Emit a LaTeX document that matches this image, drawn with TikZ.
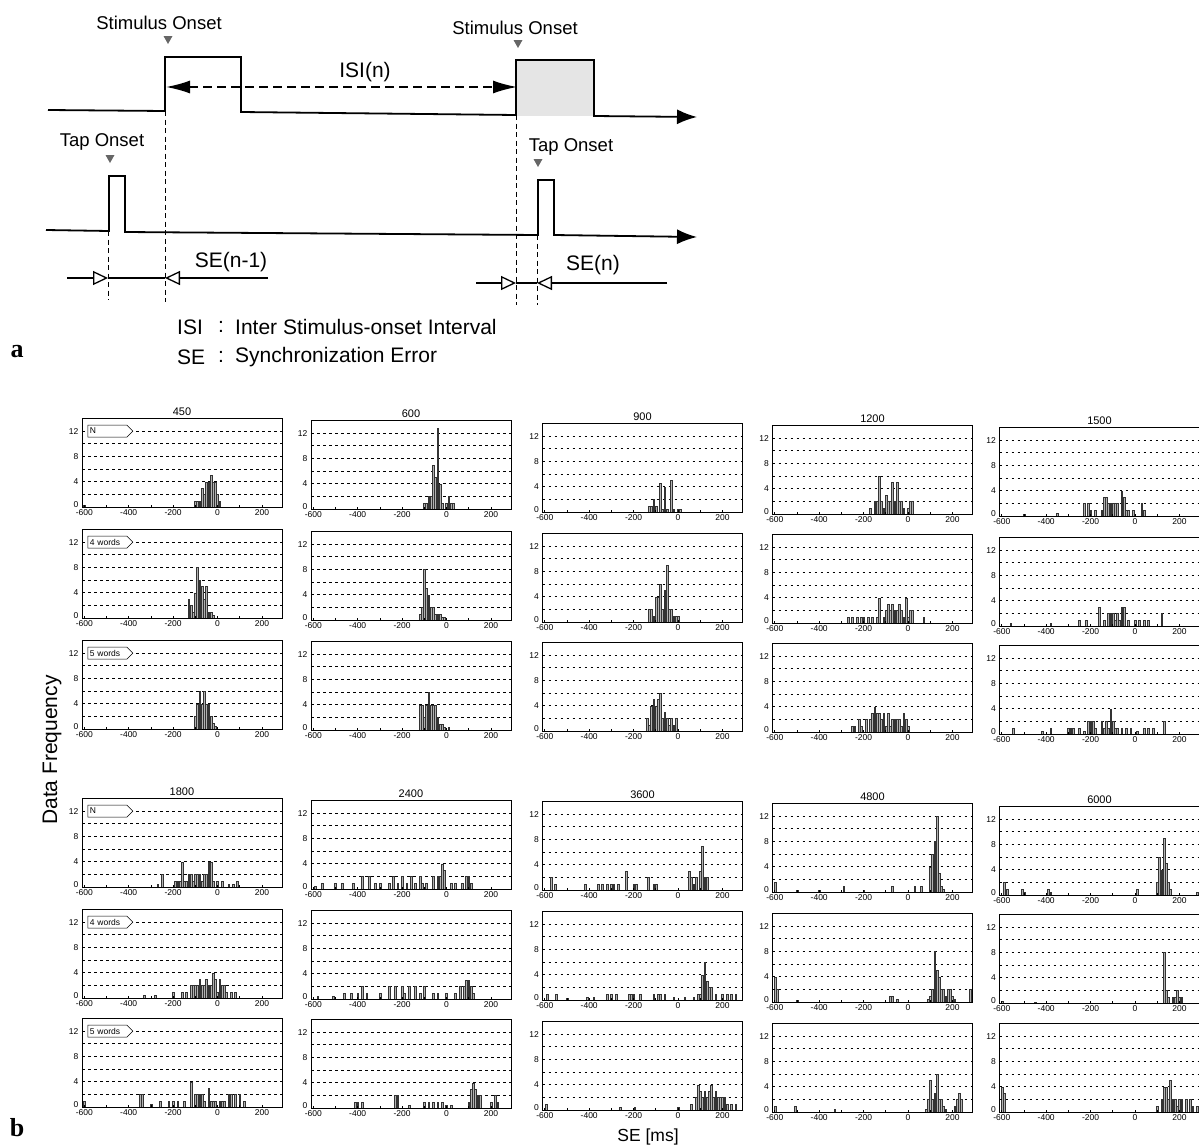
\documentclass[tikz,border=0pt]{standalone}
\usepackage{fontspec}
\setmainfont{Liberation Sans}
\newfontfamily\letterfont{Liberation Serif}
\usetikzlibrary{arrows.meta,shapes.symbols}

\newcommand\fs[1]{\fontsize{#1}{#1}\selectfont}
% small onset triangle above a pulse
\newcommand\OnsetMark[1]{%
    \fill[onset mark] (#1) ++(-4.5,-4) -- ++(9,0) -- ++(-4.5,8) -- cycle;
}
% one histogram panel
% #1 x of 0 ms, #2 y of zero count, #3 title, #4 bins (ms/count), #5 tag
\newcommand\HistPanel[5]{%
    \begin{scope}[xshift=#1pt, yshift=-#2pt, x=0.222pt, y=6.33pt]
        \foreach \gy in {2,4,...,12}
            \draw[grid line] (-610,\gy) -- (290,\gy);
        \foreach \bx/\bh in {#4}
            \draw[hist bar] (\bx-4,0) rectangle (\bx+4,\bh);
        \draw[panel frame] (-610,0) rectangle (290,14);
        \foreach \tk in {-600,-500,...,200}
            \draw[panel frame] (\tk,0) -- (\tk,0.25);
        \foreach \gy in {0,2,...,12}
            \draw[panel frame] (-610,\gy) -- (-598,\gy);
        \foreach \tk in {-600,-400,...,200}
            \node[tick label, below, inner ysep=2.5pt] at (\tk,0) {\tk};
        \foreach \gy in {4,8,12}
            \node[tick label, left] at (-610,\gy) {\gy};
        \node[tick label, left] at (-610,0.35) {0};
        \node[panel title, above] at (-160,14) {#3};
        \if\relax\detokenize{#5}\relax\else
            \node[word tag, anchor=west] at (-585,12) {#5};
        \fi
    \end{scope}
}

\begin{document}
\begin{tikzpicture}[x=1pt, y=-1pt,
        signal line/.style={line width=1.8pt},
        guide/.style={dash pattern=on 5pt off 3.5pt, line width=0.8pt},
        se line/.style={line width=1.5pt},
        onset mark/.style={fill=black!60},
        diagram label/.style={font=\fs{18.5}, inner sep=0pt},
        big label/.style={font=\fs{21}, inner sep=0pt},
        legend text/.style={font=\fs{21}, inner sep=0pt, anchor=west},
        panel letter/.style={font=\letterfont\bfseries\fs{26}, inner sep=0pt},
        axis title/.style={font=\fs{21}, inner sep=0pt},
        %% histogram styles
        grid line/.style={dash pattern=on 2.5pt off 3.5pt, line width=0.6pt},
        hist bar/.style={draw=black!80, fill=black!30, line width=0.3pt},
        panel frame/.style={line width=0.7pt},
        tick label/.style={font=\fs{8.5}, inner xsep=3.5pt, inner ysep=1pt},
        panel title/.style={font=\fs{11}, inner sep=2.5pt},
        word tag/.style={signal, signal to=east, draw, fill=white,
            line width=0.5pt, font=\fs{8.5}, text width=35pt,
            minimum height=12pt, inner xsep=2pt, inner ysep=1pt}
    ]
    \useasboundingbox (0,0) rectangle (1199,1146);
    %
    %% (a) timing diagram
    \coordinate (stimA) at (165,111);
    \coordinate (stimB) at (516,115);
    \coordinate (tapA)  at (108,231);
    \coordinate (tapB)  at (537,235);
    %
    \fill[black!10] (516,60) rectangle (594,116);
    \draw[signal line, -{Latex[length=20pt,width=15pt]}]
        (48,110) -- (stimA) -- (165,57) -- (241,57) -- (241,112)
        -- (stimB) -- (516,60) -- (594,60) -- (594,116) -- (697,117);
    \draw[signal line, -{Latex[length=20pt,width=15pt]}]
        (46,230) -- (109,231) -- (109,176) -- (125,176) -- (125,232)
        -- (538,235) -- (538,180) -- (554,180) -- (554,235) -- (697,237);
    % onset guides
    \draw[guide] (stimA) -- (165,302);
    \draw[guide] (tapA)  -- (108,300);
    \draw[guide] (stimB) -- (516,305);
    \draw[guide] (tapB)  -- (537,305);
    % ISI(n)
    \draw[dash pattern=on 9pt off 5pt, line width=1.6pt,
        {Latex[length=24pt,width=13pt]}-{Latex[length=24pt,width=13pt]}]
        (166,87) -- (517,87);
    \node[big label] (isi) at (365,72) {ISI(n)};
    % SE(n-1)
    \coordinate (seAtap)  at (108,278);
    \coordinate (seAstim) at (165,278);
    \draw[se line, -{Triangle[open,length=15pt,width=14pt,line width=1.3pt]}]
        (67,278) -- (seAtap);
    \draw[se line] (seAtap) -- (seAstim);
    \draw[se line, -{Triangle[open,length=15pt,width=14pt,line width=1.3pt]}]
        (268,278) -- (seAstim);
    \node[big label] (seA) at (231,262) {SE(n-1)};
    % SE(n)
    \coordinate (seBstim) at (516,283);
    \coordinate (seBtap)  at (537,283);
    \draw[se line, -{Triangle[open,length=15pt,width=14pt,line width=1.3pt]}]
        (476,283) -- (seBstim);
    \draw[se line] (seBstim) -- (seBtap);
    \draw[se line, -{Triangle[open,length=15pt,width=14pt,line width=1.3pt]}]
        (667,283) -- (seBtap);
    \node[big label] (seB) at (593,265) {SE(n)};
    % onset labels
    \OnsetMark{168,40}
    \OnsetMark{518,44}
    \OnsetMark{110,159}
    \OnsetMark{538,163}
    \node[diagram label] (stimlabA) at (159,23)  {Stimulus Onset};
    \node[diagram label] (stimlabB) at (515,28)  {Stimulus Onset};
    \node[diagram label] (taplabA)  at (102,142) {Tap Onset};
    \node[diagram label] (taplabB)  at (571,147) {Tap Onset};
    % legend
    \node[legend text] (legA1) at (177,327) {ISI};
    \node[legend text] (legA2) at (218,327) {:};
    \node[legend text] (legA3) at (235,327) {Inter Stimulus-onset Interval};
    \node[legend text] (legB1) at (177,357) {SE};
    \node[legend text] (legB2) at (218,357) {:};
    \node[legend text] (legB3) at (235,357) {Synchronization Error};
    \node[panel letter] (letA) at (17,352) {a};
    %
    %% (b) histograms, upper block
    \HistPanel{217.5}{507}{450}{-600/0.3,-100/1,-90/1,-80/1,-70/3,-60/2,-50/4,-40/4,-30/5,-20/4,-10/4,0/2,10/1}{N}
    \HistPanel{446.5}{509}{600}{-100/1,-90/1,-80/2,-70/2,-60/7,-50/5,-40/12.7,-30/4,-20/1,0/1,10/2,20/1,30/1}{}
    \HistPanel{678}{512}{900}{-130/1,-120/1,-110/2,-100/1,-80/4.5,-70/0.5,-60/4,-50/0.5,-30/5,-20/0.5,0/0.5,10/0.5}{}
    \HistPanel{908}{514}{1200}{-170/1,-150/2,-140/2,-130/6,-120/2,-110/1,-100/3,-90/2,-80/2,-70/5,-60/2,-50/5,-40/2,-30/2,-20/1,0/1,10/2,20/2}{}
    \HistPanel{1135}{516}{1500}{-500/0.3,-350/0.5,-230/2,-210/2,-200/1,-180/1,-150/1,-140/3,-130/3,-120/2,-110/2,-100/2,-90/2,-80/2,-60/4,-50/3,-40/1,-30/1,-10/1,30/2,40/1}{}
    %
    \HistPanel{217.5}{618}{}{-130/3,-120/2,-110/1,-100/4,-90/8,-80/6,-70/5,-60/3,-50/5,-40/1,-30/1,-20/0.5}{4 words}
    \HistPanel{446.5}{620}{}{-120/1,-110/2,-100/8,-90/5,-80/4,-70/2,-60/2,-50/1,-40/1,-30/1,-20/0.5,-10/0.5}{}
    \HistPanel{678}{622}{}{-130/2,-120/2,-110/1,-100/4,-90/4,-80/6,-70/2,-60/5,-50/9,-40/2,-30/2,-20/1,-10/1,0/1}{}
    \HistPanel{908}{623}{}{-270/1,-250/1,-230/1,-210/1,-200/1,-180/1,-160/1,-140/1,-130/4,-110/1,-100/2,-90/3,-80/2,-70/3,-60/2,-50/2,-40/3,-30/2,-20/1,-10/4,0/1,10/2,20/2,70/1}{}
    \HistPanel{1135}{626}{}{-560/0.5,-380/0.5,-250/1,-220/1,-160/3,-140/1,-120/2,-110/2,-100/2,-90/1,-80/2,-70/1,-60/3,-50/3,-30/1,0/1,20/1,40/1,60/1,120/2}{}
    %
    \HistPanel{217.5}{729}{}{-100/2,-90/4,-80/6,-70/4,-60/6,-50/4,-40/4,-30/2,-20/1,-10/0.5}{5 words}
    \HistPanel{446.5}{730}{}{-120/4,-110/4,-100/2,-90/4,-80/6,-70/4,-60/4,-50/4,-40/2,-30/1,-20/1,-10/0.5,10/0.5}{}
    \HistPanel{678}{731}{}{-140/2,-130/1,-120/4,-110/5,-100/4,-90/5,-80/6,-70/2,-60/3,-50/2,-40/1,-30/2,-20/1,-10/2}{}
    \HistPanel{908}{732}{}{-250/1,-240/1,-220/2,-210/1,-190/2,-170/2,-160/3,-150/4,-140/3,-130/3,-120/2,-110/3,-100/1,-90/3,-80/1,-70/2,-60/2,-50/2,-40/2,-30/1,-20/3,-10/2,0/1}{}
    \HistPanel{1135}{734}{}{-550/1,-420/0.5,-380/1,-300/1,-290/1,-280/1,-250/1,-230/0.5,-210/2,-200/2,-190/2,-180/1,-150/2,-140/1,-130/2,-120/1,-110/4,-100/2,-90/1,-80/1,-60/1,-40/1,-20/1,10/0.5,40/1,60/1,80/1,130/2}{}
    %
    %% (b) histograms, lower block
    \HistPanel{217.5}{887}{1800}{-270/0.5,-250/2,-190/1,-180/1,-170/1,-160/4,-150/1,-140/1,-130/2,-120/2,-110/1,-100/2,-90/2,-80/2,-70/1,-60/2,-50/2,-40/4,-30/4,-20/1,0/1,20/1,50/0.5,70/0.5,90/1}{N}
    \HistPanel{446.5}{889}{2400}{-590/0.5,-560/1,-500/1,-470/1,-420/1,-380/2,-350/2,-320/1,-300/1,-260/1,-240/2,-220/1,-200/2,-180/1,-160/2,-140/1,-120/2,-110/1,-90/1,-60/2,-40/2,-30/2,-20/4,-10/3,20/1,40/1,70/1,90/2,100/2,110/1}{}
    \HistPanel{678}{890}{3600}{-570/2,-555/1,-420/1,-360/1,-340/1,-320/1,-300/1,-290/1,-270/1,-235/3,-200/1,-190/1,-135/2,-110/1,-100/1,50/3,60/2,70/1,80/2,100/3,110/7,120/2,130/2}{}
    \HistPanel{908}{892}{4800}{-600/1.5,-500/0.3,-400/0.3,-290/1,-200/0.3,-70/1,30/1,60/1,100/4,110/6,120/8,130/12,140/3,150/1,160/0.5}{}
    \HistPanel{1135}{895}{6000}{-590/2,-575/1,-510/1,-500/0.5,-390/1,-380/0.5,10/1,100/2,110/6,120/4,130/9,140/5,150/2,160/1,280/0.5}{}
    %
    \HistPanel{217.5}{998}{}{-330/0.5,-280/0.5,-200/1,-160/1,-140/1,-120/2,-110/2,-100/2,-90/2,-80/3,-70/2,-60/2,-50/3,-40/2,-30/2,-20/4,-10/3,0/1,10/3,20/2,30/2,40/1,60/1,80/1}{4 words}
    \HistPanel{446.5}{999}{}{-580/0.5,-510/0.5,-460/1,-430/1,-400/1,-380/2,-360/1,-300/1,-260/2,-230/2,-200/2,-190/1,-170/2,-140/2,-120/1,-100/2,-60/1,-40/1,0/1,40/1,60/2,80/2,90/3,100/3,110/2,120/1}{}
    \HistPanel{678}{1000}{}{-590/1,-550/1,-500/0.3,-410/0.5,-380/0.5,-320/1,-300/1,-280/1,-220/1,-210/1,-200/1,-170/1,-110/1,-90/1,-80/1,-60/1,-20/0.5,30/0.5,70/0.5,90/1,100/1,110/4,120/6,130/3,140/2,150/2,170/1,200/1,220/1,240/1,260/1}{}
    \HistPanel{908}{1002}{}{-600/4,-590/2,-500/0.3,-80/1,-70/1,-50/0.5,90/0.5,100/1,110/2,120/8,130/5,140/4,150/2,160/2,170/1,180/2,190/2,200/1,210/0.5,280/2}{}
    \HistPanel{1135}{1003}{}{-600/0.3,-450/0.2,130/8,140/2,150/1,170/1,180/1,190/2,200/1,210/1}{}
    %
    \HistPanel{217.5}{1107}{}{-600/1,-350/2,-340/2,-300/0.5,-260/1,-220/1,-200/1,-180/1,-150/1,-120/4,-100/2,-90/2,-80/2,-70/2,-60/1,-40/3,-30/1,-20/1,-10/1,10/1,20/1,30/1,50/2,60/2,80/2,100/2,120/1}{5 words}
    \HistPanel{446.5}{1108}{}{-410/1,-400/1,-380/1,-230/2,-220/2,-170/0.5,-100/1,-80/1,-60/1,-40/1,-20/1,0/0.5,20/0.5,100/1,110/3,120/4,130/3,140/2,150/2,200/1,220/2,230/1}{}
    \HistPanel{678}{1110}{}{-595/1,-260/0.5,-195/0.5,0/0.5,60/1,80/2,90/4,100/3,110/2,120/3,130/2,140/3,150/4,160/2,170/3,180/2,190/2,200/2,210/2,220/1,240/1,260/1}{}
    \HistPanel{908}{1112}{}{-600/1,-510/1,-330/0.5,80/0.5,90/2,100/5,110/2,120/3,130/6,140/2,150/2,160/1,170/0.5,210/1,220/2,230/3,240/2}{}
    \HistPanel{1135}{1112}{}{-600/4,-590/3,100/1,120/2,130/4,140/4,150/2,160/5,170/2,180/2,190/1,200/2,210/2,230/2,250/2,260/1,280/1}{}
    %
    \node[axis title, rotate=90] (freqlabel) at (52,750) {Data Frequency};
    \node[axis title, font=\fs{17.5}] (selabel) at (648,1137) {SE [ms]};
    \node[panel letter] (letB) at (17,1128) {b};
\end{tikzpicture}
\end{document}
